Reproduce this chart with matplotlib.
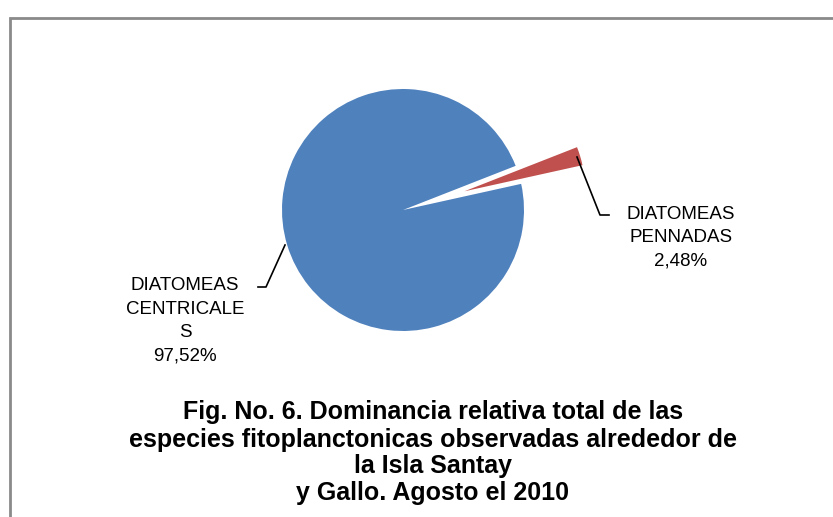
import matplotlib
matplotlib.use("Agg")
import matplotlib.pyplot as plt
import numpy as np

categories = ["DIATOMEAS\nCENTRICALE\nS", "DIATOMEAS\nPENNADAS"]
values = [97.52, 2.48]
colors = ["#4F81BD", "#C0504D"]
title_lines = ["Fig. No. 6. Dominancia relativa total de las",
               "especies fitoplanctonicas observadas alrededor de",
               "la Isla Santay",
               "y Gallo. Agosto el 2010"]

W, H = 833, 517
fig = plt.figure(figsize=(W / 100, H / 100), dpi=100)
plt.rcParams['font.family'] = ['Liberation Sans', 'DejaVu Sans']

# overlay axes in pixel coords
ov = fig.add_axes([0, 0, 1, 1], zorder=3)
ov.set_xlim(0, W)
ov.set_ylim(H, 0)
ov.axis('off')
ov.patch.set_alpha(0)

# frame (cropped at right/bottom)
ov.plot([10, 10, W + 5], [H + 5, 18, 18], color="#8a8a8a", lw=2, solid_joinstyle='miter')

# pie
cx, cy, r = 403, 210, 121
ax = fig.add_axes([(cx - r) / W, (H - cy - r) / H, 2 * r / W, 2 * r / H])
wedges, _ = ax.pie(values, colors=colors, startangle=21.4, counterclock=True,
                   explode=[0, 0.53], wedgeprops=dict(linewidth=0))
for w in wedges:
    w.set_clip_on(False)
ax.set_xlim(-1, 1)
ax.set_ylim(-1, 1)
ax.set_aspect('equal')
ax.axis('off')

# labels
lab_fs = 13.5
ov.plot([577, 600, 609], [157, 215, 215], color="black", lw=1.2)
ov.text(681, 238, f"{categories[1]}\n{values[1]:.2f}%".replace('.', ','),
        ha='center', va='center', fontsize=lab_fs, linespacing=1.5)
ov.plot([285, 266, 258], [245, 287, 287], color="black", lw=1.2)
ov.text(185, 321, f"{categories[0]}\n{values[0]:.2f}%".replace('.', ','),
        ha='center', va='center', fontsize=lab_fs, linespacing=1.5)

# title
ys = [412, 440, 466, 493]
for t, y in zip(title_lines, ys):
    ov.text(433, y, t, ha='center', va='center', fontsize=18, fontweight='bold')

fig.savefig("out.png", dpi=100)
